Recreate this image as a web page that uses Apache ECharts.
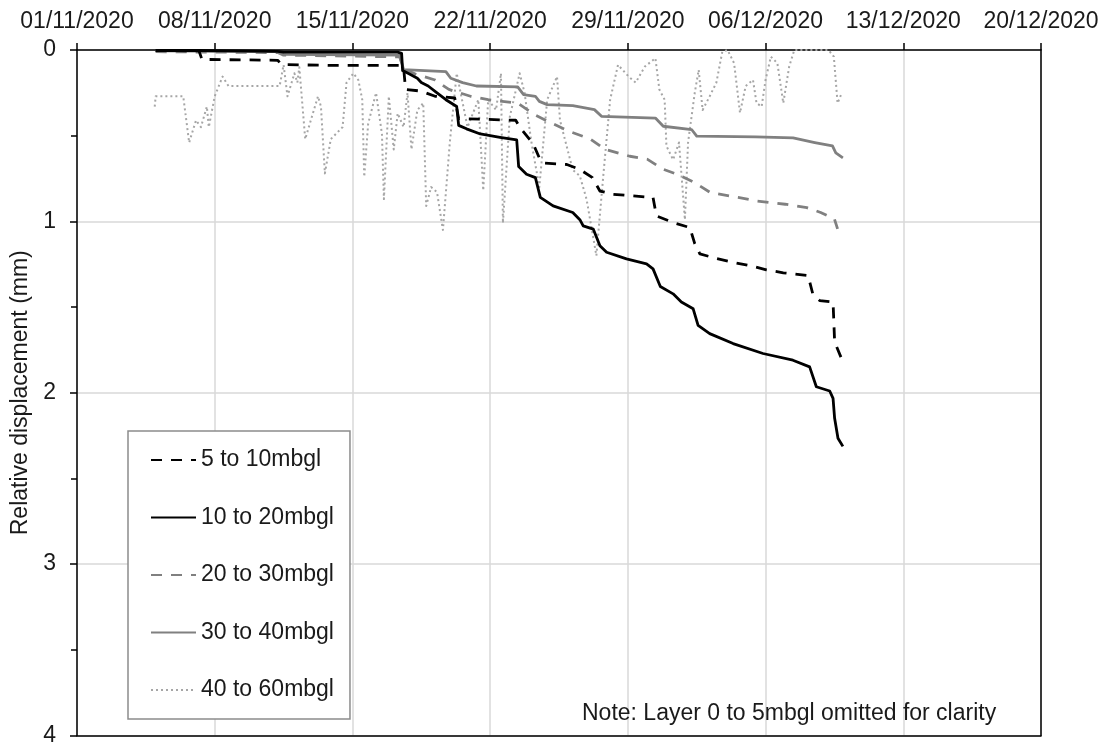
<!DOCTYPE html>
<html>
<head>
<meta charset="utf-8">
<script src="https://cdn.jsdelivr.net/npm/echarts@6/dist/echarts.min.js"></script>
<style>html,body{margin:0;padding:0;background:#fff}#c{width:1106px;height:747px}</style>
</head>
<body>
<div id="c"></div>
<script>
// x values = days since 01/11/2020 00:00, y values = relative displacement (mm)
const tickLabels = ['01/11/2020','08/11/2020','15/11/2020','22/11/2020','29/11/2020','06/12/2020','13/12/2020','20/12/2020'];
const seriesNames = ['5 to 10mbgl','10 to 20mbgl','20 to 30mbgl','30 to 40mbgl','40 to 60mbgl'];

const d5to10 = [[4.0,0.003],[6.2,0.005],[6.35,0.055],[10.2,0.06],[10.4,0.085],[13,0.09],[16.4,0.09],[16.6,0.1],[16.7,0.23],[17.5,0.24],[18.2,0.27],[19.2,0.28],[19.4,0.4],[22.3,0.41],[22.5,0.45],[23.2,0.55],[23.5,0.63],[23.7,0.66],[24.9,0.668],[25.56,0.697],[26.2,0.745],[26.58,0.823],[27.25,0.842],[29.28,0.861],[29.45,0.968],[30.3,1.007],[31.15,1.036],[31.4,1.13],[31.66,1.19],[32.5,1.216],[33.35,1.239],[34.2,1.258],[35.04,1.283],[35.9,1.3],[37.16,1.316],[37.4,1.423],[37.75,1.462],[38.43,1.471],[38.51,1.703],[38.93,1.82]];

const d10to20 = [[4.0,0.003],[6.2,0.003],[6.3,0.008],[10.2,0.008],[10.5,0.012],[16.3,0.012],[16.5,0.02],[16.55,0.12],[16.9,0.14],[17.3,0.165],[17.5,0.19],[17.85,0.21],[18.3,0.25],[18.75,0.29],[19.3,0.33],[19.4,0.44],[19.8,0.46],[20.5,0.49],[21.5,0.51],[22.35,0.525],[22.45,0.68],[22.85,0.725],[23.3,0.745],[23.55,0.86],[24.2,0.91],[25.2,0.948],[25.56,0.99],[25.73,1.026],[26.24,1.045],[26.58,1.142],[26.92,1.18],[27.93,1.219],[28.95,1.248],[29.28,1.277],[29.65,1.38],[30.3,1.423],[30.72,1.471],[31.32,1.51],[31.57,1.607],[32.16,1.655],[33.35,1.713],[34.87,1.771],[36.39,1.81],[37.24,1.849],[37.58,1.965],[38.26,1.99],[38.43,2.033],[38.51,2.149],[38.68,2.265],[38.93,2.313]];

const d20to30 = [[4.0,0.01],[10.2,0.015],[10.5,0.03],[16.4,0.04],[16.6,0.11],[17.2,0.14],[18.2,0.175],[18.9,0.23],[20.0,0.27],[20.9,0.29],[22.4,0.31],[23.3,0.38],[24.0,0.42],[25.0,0.474],[26.1,0.52],[26.85,0.58],[28.1,0.62],[29.0,0.638],[29.8,0.696],[30.5,0.725],[31.4,0.774],[32.2,0.832],[33.6,0.86],[34.5,0.88],[36.0,0.9],[37.1,0.92],[37.8,0.948],[38.5,0.986],[38.66,1.044]];

const d30to40 = [[4.0,0.005],[10.2,0.01],[10.5,0.025],[16.4,0.03],[16.6,0.115],[18.75,0.126],[19.0,0.165],[19.6,0.19],[20.3,0.21],[22.4,0.215],[22.7,0.26],[23.3,0.27],[23.5,0.3],[23.9,0.319],[25.2,0.325],[26.3,0.348],[26.66,0.387],[29.4,0.397],[29.8,0.445],[31.24,0.464],[31.5,0.503],[34.5,0.507],[36.4,0.513],[37.5,0.54],[38.4,0.56],[38.57,0.6],[38.93,0.629]];

const d40to60 = [[3.95,0.33],[4.0,0.27],[5.4,0.27],[5.7,0.54],[6.05,0.41],[6.3,0.45],[6.6,0.33],[6.7,0.45],[7.0,0.27],[7.4,0.155],[7.7,0.21],[10.3,0.21],[10.5,0.087],[10.7,0.27],[11.05,0.136],[11.2,0.19],[11.3,0.1],[11.6,0.52],[12.25,0.27],[12.4,0.33],[12.6,0.72],[12.9,0.52],[13.5,0.45],[13.7,0.19],[14.05,0.136],[14.3,0.175],[14.5,0.29],[14.6,0.74],[14.8,0.43],[15.2,0.25],[15.5,0.49],[15.6,0.87],[15.85,0.27],[16.1,0.58],[16.3,0.37],[16.6,0.45],[16.8,0.25],[17.0,0.58],[17.3,0.35],[17.6,0.31],[17.75,0.91],[18.0,0.8],[18.3,0.83],[18.6,1.05],[18.95,0.54],[19.3,0.136],[19.85,0.45],[20.4,0.29],[20.65,0.82],[20.9,0.29],[21.3,0.35],[21.55,0.136],[21.65,1.01],[22.0,0.39],[22.5,0.136],[22.75,0.25],[23.1,0.54],[23.5,0.8],[23.9,0.29],[24.4,0.155],[24.55,0.41],[25.2,0.7],[25.56,0.735],[25.9,0.87],[26.4,1.2],[26.75,0.735],[27.1,0.29],[27.5,0.087],[28.04,0.155],[28.4,0.19],[28.86,0.097],[29.4,0.048],[29.6,0.23],[29.87,0.29],[29.96,0.56],[30.3,0.64],[30.6,0.54],[30.9,0.99],[31.06,0.54],[31.4,0.25],[31.6,0.116],[31.8,0.35],[32.16,0.27],[32.5,0.19],[32.8,0.01],[33.07,0.0],[33.4,0.077],[33.7,0.367],[33.99,0.21],[34.36,0.174],[34.54,0.31],[34.8,0.33],[35.0,0.174],[35.27,0.039],[35.6,0.077],[35.9,0.31],[36.2,0.097],[36.46,0.0],[38.2,0.0],[38.47,0.039],[38.66,0.31],[38.84,0.26]];

const FONT = "'Liberation Sans', Arial, sans-serif";
const TXT = '#1a1a1a';

const chart = echarts.init(document.getElementById('c'), null, {renderer: 'canvas'});

function mk(name, data, color, width, type, z) {
  return {
    name: name, type: 'line', data: data, xAxisIndex: 0, yAxisIndex: 0,
    symbol: 'none', showSymbol: false, z: z, animation: false,
    lineStyle: {color: color, width: width, type: type, cap: 'butt', join: 'round'},
    itemStyle: {color: color}
  };
}

const option = {
  animation: false,
  backgroundColor: '#fff',
  textStyle: {fontFamily: FONT},
  grid: {left: 77, right: 65, top: 50, bottom: 9, containLabel: false},
  xAxis: [{
    type: 'value', position: 'top', min: 0, max: 49, interval: 7,
    axisLine: {show: true, onZero: false, lineStyle: {color: '#000', width: 1.5}},
    axisTick: {show: true, inside: false, length: 7, lineStyle: {color: '#000', width: 1.5}},
    axisLabel: {show: true, margin: 17, fontSize: 23, fontFamily: FONT, color: TXT,
      formatter: function (v) { return tickLabels[Math.round(v / 7)] || ''; }},
    splitLine: {show: true, lineStyle: {color: '#d9d9d9', width: 1.5}}
  }, {
    type: 'value', position: 'bottom', min: 0, max: 49, interval: 7,
    axisLine: {show: true, onZero: false, lineStyle: {color: '#000', width: 1.5}},
    axisTick: {show: false}, axisLabel: {show: false}, splitLine: {show: false}
  }],
  yAxis: [{
    type: 'value', inverse: true, min: 0, max: 4, interval: 1,
    name: 'Relative displacement (mm)', nameLocation: 'middle', nameGap: 41, nameRotate: 90,
    nameTextStyle: {fontSize: 23, fontFamily: FONT, color: TXT},
    axisLine: {show: true, onZero: false, lineStyle: {color: '#000', width: 1.5}},
    axisTick: {show: true, inside: false, length: 7, lineStyle: {color: '#000', width: 1.5}},
    minorTick: {show: true, splitNumber: 2, length: 6, lineStyle: {color: '#000', width: 1.5}},
    axisLabel: {show: true, margin: 21, fontSize: 23, fontFamily: FONT, color: TXT},
    splitLine: {show: true, lineStyle: {color: '#d9d9d9', width: 1.5}}
  }, {
    type: 'value', position: 'right', inverse: true, min: 0, max: 4, interval: 1,
    axisLine: {show: true, onZero: false, lineStyle: {color: '#000', width: 1.5}},
    axisTick: {show: false}, axisLabel: {show: false}, splitLine: {show: false}
  }],
  legend: {
    show: true, orient: 'vertical', left: 128, top: 431,
    data: seriesNames,
    itemWidth: 45, itemHeight: 14, itemGap: 33.5,
    padding: [17, 16, 17, 22],
    borderColor: '#8c8c8c', borderWidth: 1.5, backgroundColor: '#fff',
    itemStyle: {color: 'rgba(0,0,0,0)', borderColor: 'rgba(0,0,0,0)', borderWidth: 0, opacity: 0},
    textStyle: {fontSize: 23, fontFamily: FONT, color: TXT, lineHeight: 24},
    selectedMode: false
  },
  graphic: [{
    type: 'text', left: 582, top: 702, z: 10,
    style: {text: 'Note: Layer 0 to 5mbgl omitted for clarity', font: '23px ' + FONT, fill: TXT}
  }],
  series: [
    mk(seriesNames[4], d40to60, '#a6a6a6', 2, [2, 3], 2),
    mk(seriesNames[3], d30to40, '#808080', 2.8, 'solid', 3),
    mk(seriesNames[2], d20to30, '#808080', 2.8, [11, 9], 4),
    mk(seriesNames[0], d5to10, '#000000', 2.8, [11, 9], 5),
    mk(seriesNames[1], d10to20, '#000000', 2.8, 'solid', 6)
  ]
};
chart.setOption(option);
</script>
</body>
</html>
